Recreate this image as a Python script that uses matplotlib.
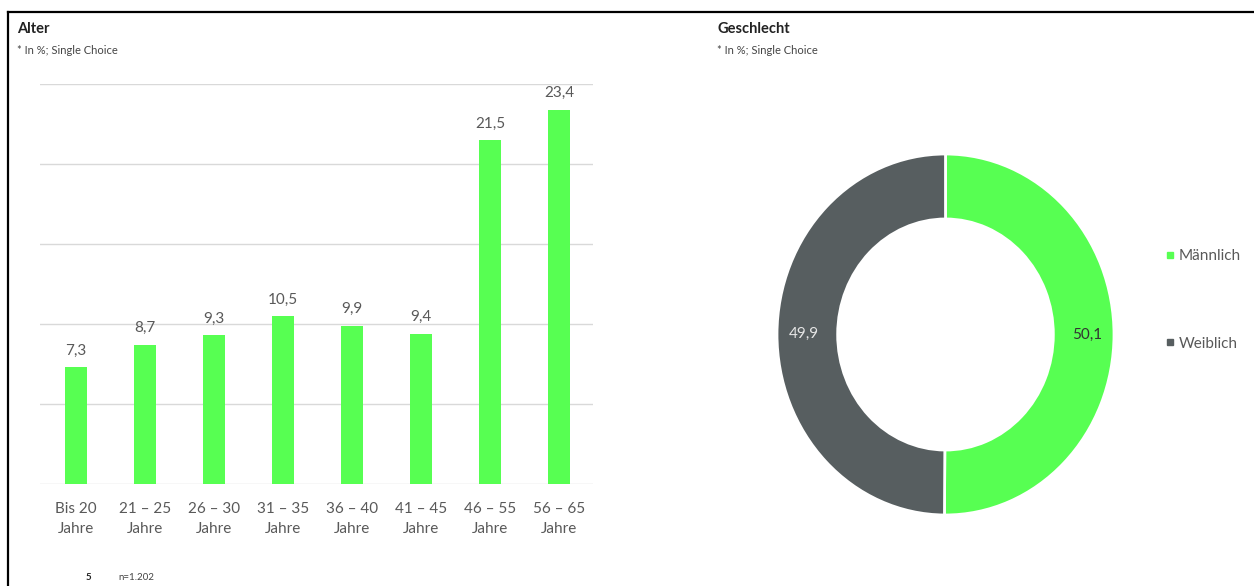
import matplotlib.pyplot as plt
from matplotlib.lines import Line2D

plt.rcParams['font.family'] = ['Lato', 'DejaVu Sans']

age_groups = ["Bis 20\nJahre", "21 – 25\nJahre", "26 – 30\nJahre", "31 – 35\nJahre",
              "36 – 40\nJahre", "41 – 45\nJahre", "46 – 55\nJahre", "56 – 65\nJahre"]
age_values = [7.3, 8.7, 9.3, 10.5, 9.9, 9.4, 21.5, 23.4]

genders = ["Männlich", "Weiblich"]
gender_values = [50.1, 49.9]

GREEN = "#57ff52"
GRAY = "#575e60"
TEXT = "#595959"

W, H = 1254, 586
fig = plt.figure(figsize=(W / 100, H / 100), dpi=100)

# === Balken: Alter ===
ax = fig.add_axes([40 / W, (H - 484) / H, 553 / W, 400 / H])
x = range(len(age_values))
ax.bar(x, age_values, width=0.32, color=GREEN, zorder=3)
for xi, v in zip(x, age_values):
    ax.text(xi, v + 0.6, f"{v:.1f}".replace(".", ","), ha="center", va="bottom",
            fontsize=11, color=TEXT)
ax.set_xlim(-0.52, 7.49)
ax.set_ylim(0, 25)
ax.set_yticks([0, 5, 10, 15, 20, 25])
ax.set_yticklabels([])
ax.grid(axis="y", color="#d9d9d9", linewidth=1, zorder=0)
ax.set_xticks(list(x))
ax.set_xticklabels(age_groups, fontsize=11, color=TEXT, linespacing=1.55)
ax.tick_params(axis="both", length=0, pad=13)
for s in ax.spines.values():
    s.set_visible(False)

# === Donut: Geschlecht ===
ax2 = fig.add_axes([777 / W, (H - 515) / H, 337 / W, 361 / H])
wedges, _, autotexts = ax2.pie(
    gender_values, colors=[GREEN, GRAY], startangle=90, counterclock=False,
    wedgeprops=dict(width=0.36, edgecolor="white", linewidth=2),
    autopct=lambda p: f"{p:.1f}".replace(".", ","), pctdistance=0.84,
    textprops=dict(fontsize=11))
autotexts[0].set_color("#333333")
autotexts[1].set_color("#e6e6e6")
ax2.set_aspect("auto")
ax2.set_xlim(-1, 1)
ax2.set_ylim(-1, 1)

handles = [Line2D([], [], marker="s", linestyle="none", markersize=4, color=c)
           for c in [GREEN, GRAY]]
leg = fig.legend(handles, genders, loc="center left", bbox_to_anchor=(1150 / W, 1 - 300 / H),
                 frameon=False, fontsize=11, labelspacing=4.8, handletextpad=0.2,
                 handlelength=0.8)
for t in leg.get_texts():
    t.set_color(TEXT)

# === Titel und Fußzeile ===
fig.text(17 / W, 1 - 29 / H, "Alter", fontsize=10.5, fontweight="bold", color="#222222", va="center")
fig.text(17 / W, 1 - 50 / H, "* In %; Single Choice", fontsize=8, color="#444444", va="center")
fig.text(717 / W, 1 - 29 / H, "Geschlecht", fontsize=10.5, fontweight="bold", color="#222222", va="center")
fig.text(717 / W, 1 - 50 / H, "* In %; Single Choice", fontsize=8, color="#444444", va="center")
fig.text(86 / W, 1 - 577 / H, "5", fontsize=7, fontweight="bold", color="#222222", va="center")
fig.text(118 / W, 1 - 577 / H, "n=1.202", fontsize=7, color="#444444", va="center")

# Rahmen
fig.add_artist(Line2D([8 / W, 1], [1 - 12 / H, 1 - 12 / H], color="black", linewidth=1.6))
fig.add_artist(Line2D([8 / W, 8 / W], [0, 1 - 12 / H], color="black", linewidth=1.6))

fig.savefig("out.png", dpi=100)
